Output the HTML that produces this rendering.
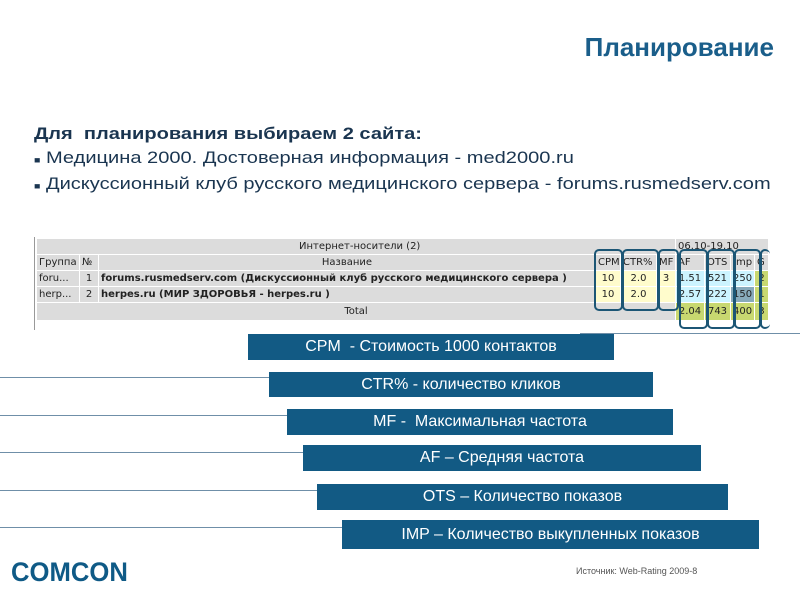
<!DOCTYPE html>
<html><head><meta charset="utf-8"><style>
body{margin:0;width:800px;height:600px;background:#fff;position:relative;overflow:hidden;font-family:"Liberation Sans","Noto Sans CJK SC",sans-serif}
.a{position:absolute}
.bar{position:absolute;background:#125a84;color:#fff;font-size:16px;text-align:center;box-sizing:border-box;display:flex;align-items:center;justify-content:center}
.ln{position:absolute;height:1px;background:#6f8fa8;left:0}
table{border-collapse:collapse;font-family:"DejaVu Sans",sans-serif;font-size:10px;color:#222}
td{border:1px solid #fff;padding:0 2px;height:15px;background:#dcdcdc;white-space:nowrap;overflow:hidden}
.y{background:#fffccc;text-align:center}.c{background:#ccf4ff;text-align:center}.g{background:#c8d870;text-align:center}
.ov{position:absolute;border:2px solid #1c5675;border-radius:5px;box-sizing:border-box}
</style></head><body>
<div class="a" style="right:26px;top:32px;font-size:26px;font-weight:bold;color:#1a5e8a">Планирование</div>
<div class="a" style="left:34px;top:122px;font-size:17px;color:#1a3550;line-height:24px;transform:scaleX(1.18);transform-origin:left top;white-space:nowrap">
<b>Для&nbsp; планирования выбираем 2 сайта:</b><br>
<span style="font-size:9px">■</span> Медицина 2000. Достоверная информация - med2000.ru<br>
<span style="font-size:9px">■</span> Дискуссионный клуб русского медицинского сервера - forums.rusmedserv.com</div>
<div class="a" style="left:34px;top:237px;width:1px;height:93px;background:#999"></div>
<table class="a" style="left:36px;top:238px;width:732px;table-layout:fixed">
<colgroup><col style="width:43px"><col style="width:19px"><col style="width:497px"><col style="width:25px"><col style="width:36px"><col style="width:19px"><col style="width:29px"><col style="width:26px"><col style="width:24px"><col style="width:14px"></colgroup>
<tr><td colspan="6" style="text-align:left;padding-left:262px">Интернет-носители (2)</td><td colspan="4" style="text-align:left;border-left:1px solid #222">06.10-19.10</td></tr>
<tr><td>Группа</td><td>№</td><td style="text-align:center">Название</td><td>CPM</td><td>CTR%</td><td>MF</td><td>AF</td><td>OTS</td><td>Imp</td><td>G</td></tr>
<tr><td>foru...</td><td style="text-align:center">1</td><td><b>forums.rusmedserv.com (Дискуссионный клуб русского медицинского сервера )</b></td><td class="y">10</td><td class="y">2.0</td><td class="y">3</td><td class="c">1.51</td><td class="c">521</td><td class="c">250</td><td class="g">2</td></tr>
<tr><td>herp...</td><td style="text-align:center">2</td><td><b>herpes.ru (МИР ЗДОРОВЬЯ - herpes.ru )</b></td><td class="y">10</td><td class="y">2.0</td><td class="y"></td><td class="c">2.57</td><td class="c">222</td><td class="c" style="background:#8ab">150</td><td class="g">1</td></tr>
<tr><td colspan="6" style="text-align:center;height:17px">Total</td><td class="g">2.04</td><td class="g">743</td><td class="g">400</td><td class="g">3</td></tr>
</table>
<div class="ov" style="left:594px;top:249px;width:29px;height:62px"></div>
<div class="ov" style="left:622px;top:249px;width:37px;height:62px"></div>
<div class="ov" style="left:658px;top:249px;width:21px;height:62px"></div>
<div class="ov" style="left:679px;top:249px;width:29px;height:80px"></div>
<div class="ov" style="left:707px;top:249px;width:28px;height:80px"></div>
<div class="ov" style="left:734px;top:249px;width:27px;height:80px"></div>
<div class="ov" style="left:760px;top:249px;width:10px;height:80px;border-right:none"></div>
<div class="a" style="left:580px;top:333px;width:220px;height:1px;background:#6f8fa8"></div>
<div class="ln" style="top:377px;width:270px"></div>
<div class="ln" style="top:415px;width:288px"></div>
<div class="ln" style="top:452px;width:304px"></div>
<div class="ln" style="top:490px;width:318px"></div>
<div class="ln" style="top:527px;width:342px"></div>
<div class="bar" style="left:248px;top:334px;width:366px;height:26px">CPM&nbsp; - Стоимость 1000 контактов</div>
<div class="bar" style="left:269px;top:372px;width:384px;height:25px">CTR% - количество кликов</div>
<div class="bar" style="left:287px;top:409px;width:386px;height:26px">MF -&nbsp; Максимальная частота</div>
<div class="bar" style="left:303px;top:445px;width:398px;height:26px">AF – Средняя частота</div>
<div class="bar" style="left:317px;top:484px;width:411px;height:26px">OTS – Количество показов</div>
<div class="bar" style="left:342px;top:520px;width:417px;height:29px">IMP – Количество выкупленных показов</div>
<div class="a" style="left:11px;top:557px;font-size:27px;font-weight:bold;color:#0f5a86;transform:scaleX(0.95);transform-origin:left">COMCON</div>
<div class="a" style="left:576px;top:566px;font-size:9px;color:#555">Источник: Web-Rating 2009-8</div>
</body></html>
